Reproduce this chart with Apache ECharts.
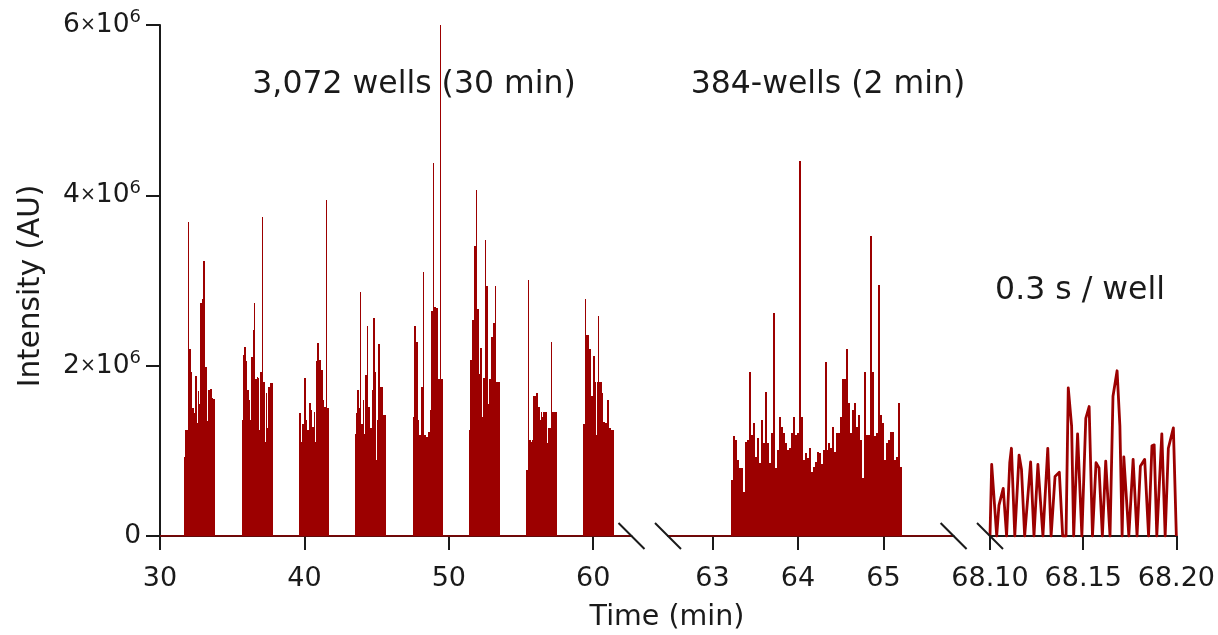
<!DOCTYPE html>
<html>
<head>
<meta charset="utf-8">
<script src="https://cdn.jsdelivr.net/npm/echarts@6/dist/echarts.min.js"></script>
<style>
  html, body { margin: 0; padding: 0; background: #ffffff; }
  #chart { width: 1218px; height: 635px; }
</style>
</head>
<body>
<div id="chart"></div>
<script>
// Intensities are in units of 10^6 AU, times in minutes.

// 3,072-well run: eight 384-well plates, one scan value per scan step
const plateStarts = [31.66, 35.68, 39.63, 43.51, 47.53, 51.41, 55.36, 59.31];
const plateScanStep = 0.0693;
const plate1 = [0.93, 1.25, 1.25, 1.25, 3.69, 2.20, 2.20, 1.93, 1.50, 1.50, 1.45, 1.88, 1.88, 1.33, 1.70, 1.55, 2.74, 2.74, 2.78, 3.23, 3.23, 1.99, 1.99, 1.35, 1.72, 1.72, 1.73, 1.73, 1.62, 1.61, 1.61];
const plate2 = [1.36, 2.13, 2.22, 2.22, 2.05, 1.72, 1.72, 1.60, 1.36, 2.10, 2.10, 2.42, 2.74, 1.84, 1.84, 1.87, 1.86, 1.25, 1.93, 1.93, 3.75, 1.81, 1.81, 1.10, 1.68, 1.27, 1.75, 1.75, 1.80, 1.80, 1.80];
const plate3 = [1.45, 1.45, 1.10, 1.31, 1.31, 1.86, 1.86, 1.36, 1.25, 1.25, 1.56, 1.56, 1.48, 1.28, 1.28, 1.46, 1.10, 2.05, 2.27, 2.27, 2.07, 2.07, 1.95, 1.95, 1.60, 1.52, 1.52, 3.94, 1.50, 1.50];
const plate4 = [1.20, 1.45, 1.72, 1.72, 1.50, 2.87, 1.31, 1.31, 1.60, 1.20, 1.89, 1.89, 2.46, 1.52, 1.52, 1.27, 1.27, 1.72, 2.56, 2.56, 1.92, 0.89, 1.36, 2.25, 2.25, 1.75, 1.75, 1.75, 1.42, 1.42, 1.42];
const plate5 = [1.40, 2.46, 2.46, 2.28, 2.28, 1.36, 1.19, 1.19, 1.75, 1.75, 3.10, 1.19, 1.19, 1.16, 1.16, 1.22, 1.22, 1.48, 2.64, 2.64, 4.38, 2.69, 2.69, 2.68, 2.68, 1.84, 1.84, 6.00, 1.84, 1.84];
const plate6 = [1.25, 2.07, 2.07, 2.54, 2.54, 3.40, 3.40, 4.06, 2.66, 2.66, 1.90, 2.21, 2.21, 1.40, 1.86, 1.86, 3.48, 2.93, 2.93, 1.55, 1.84, 1.84, 2.34, 2.34, 2.50, 2.50, 2.93, 1.81, 1.81, 1.81, 1.81];
const plate7 = [0.78, 0.78, 3.01, 1.13, 1.13, 1.10, 1.13, 1.64, 1.64, 1.64, 1.68, 1.68, 1.52, 1.52, 1.36, 1.46, 1.40, 1.46, 1.46, 1.46, 1.46, 1.09, 1.27, 1.27, 1.27, 2.28, 1.46, 1.46, 1.46, 1.46, 1.46];
const plate8 = [1.31, 1.31, 2.78, 2.36, 2.36, 2.36, 2.19, 2.19, 1.64, 1.64, 2.11, 2.11, 1.81, 1.19, 1.81, 2.58, 1.81, 1.81, 1.81, 1.68, 1.34, 1.34, 1.33, 1.33, 1.60, 1.60, 1.27, 1.27, 1.25, 1.25, 1.25];
const plates = [plate1, plate2, plate3, plate4, plate5, plate6, plate7, plate8];

// 384-well run (2 min)
const fastStart = 63.222;
const fastScanStep = 0.02316;
const fast384 = [0.66, 1.17, 1.13, 0.89, 0.80, 0.80, 0.52, 1.10, 1.13, 1.92, 1.19, 1.33, 0.93, 1.15, 0.86, 1.36, 1.09, 1.69, 1.09, 0.86,
                 1.21, 2.62, 0.80, 1.01, 1.40, 1.28, 1.21, 1.09, 1.01, 1.03, 1.21, 1.40, 1.19, 1.21, 4.40, 1.40, 0.89, 0.98, 0.92, 1.03,
                 0.75, 0.81, 0.87, 0.99, 0.98, 0.84, 1.01, 2.04, 1.01, 1.09, 1.03, 1.28, 0.99, 1.21, 1.21, 1.40, 1.84, 1.84, 2.20, 1.56,
                 1.21, 1.48, 1.56, 1.28, 1.42, 1.13, 0.68, 1.92, 1.19, 1.19, 3.52, 1.92, 1.17, 1.21, 2.95, 1.42, 1.33, 0.89, 1.09, 1.13,
                 1.22, 1.22, 0.89, 0.93, 1.56, 0.81];

// single wells at 0.3 s / well
const wellTimes = [68.1000, 68.1009, 68.1036, 68.1048, 68.1071, 68.1089, 68.1106, 68.1115, 68.1133, 68.1156,
                   68.1169, 68.1186, 68.1218, 68.1236, 68.1257, 68.1266, 68.1284, 68.1310, 68.1328, 68.1349,
                   68.1372, 68.1390, 68.1408, 68.1420, 68.1438, 68.1449, 68.1470, 68.1493, 68.1514, 68.1532,
                   68.1550, 68.1569, 68.1585, 68.1603, 68.1621, 68.1644, 68.1660, 68.1682, 68.1697, 68.1709,
                   68.1718, 68.1745, 68.1768, 68.1789, 68.1807, 68.1830, 68.1851, 68.1869, 68.1881, 68.1895,
                   68.1922, 68.1940, 68.1957, 68.1984, 68.2000];
const wellValues = [0, 0.84, 0, 0.36, 0.56, 0, 0.86, 1.03, 0, 0.95,
                    0.78, 0, 0.87, 0, 0.84, 0.82, 0, 1.03, 0, 0.70,
                    0.75, 0, 0, 1.74, 1.29, 0, 1.20, 0, 1.38, 1.52,
                    0, 0.86, 0.80, 0, 0.88, 0, 1.64, 1.94, 1.29, 0,
                    0.93, 0, 0.90, 0, 0.82, 0.90, 0, 1.06, 1.07, 0,
                    1.20, 0, 1.03, 1.27, 0];

// axis extents and ticks of the three broken-axis segments
const xRange1 = [30, 62.65];
const xRange2 = [62.48, 65.82];
const xRange3 = [68.10, 68.20];
const xTicks1 = [30, 40, 50, 60];
const xTicks2 = [63, 64, 65];
const xTicks3 = [68.10, 68.15, 68.20];
const yTicks = [0, 2, 4, 6];

const RED = '#9c0000';
const INK = '#1a1a1a';
const FONT = '"DejaVu Sans", sans-serif';

// one [scanStart, scanEnd, intensity] item per scan
function scans(start, step, values) {
  return values.map((v, i) => [start + i * step, start + (i + 1) * step, v]);
}
const scans1 = [].concat(...plates.map((v, k) => scans(plateStarts[k], plateScanStep, v)));
const scans2 = scans(fastStart, fastScanStep, fast384);
const trace3 = wellTimes.map((t, i) => [t, wellValues[i]]);

const chart = echarts.init(document.getElementById('chart'), null, { renderer: 'canvas' });

const axisLineStyle = { color: INK, width: 2 };
function xAxisFor(idx, range, ticks, fmt) {
  return {
    type: 'value', gridIndex: idx, min: range[0], max: range[1],
    axisLine: { show: true, onZero: false, lineStyle: axisLineStyle },
    axisTick: { show: true, inside: false, length: 14, lineStyle: { color: INK, width: 2 }, customValues: ticks },
    axisLabel: { show: true, margin: 29, customValues: ticks, formatter: fmt,
                 fontFamily: FONT, fontSize: 27, color: INK },
    splitLine: { show: false }
  };
}
function yAxisFor(idx, visible) {
  return {
    type: 'value', gridIndex: idx, min: 0, max: 6, show: visible,
    axisLine: { show: true, lineStyle: axisLineStyle },
    axisTick: { show: true, inside: false, length: 14, lineStyle: { color: INK, width: 2 }, customValues: yTicks },
    axisLabel: {
      show: true, margin: 19, customValues: yTicks,
      formatter: v => v === 0 ? '{n|0}' : '{n|' + v + '}{x|×}{n|10}{s|6}',
      rich: {
        n: { fontFamily: FONT, fontSize: 26.5, color: INK },
        x: { fontFamily: FONT, fontSize: 19, color: INK },
        s: { fontFamily: FONT, fontSize: 18, color: INK, padding: [0, 0, 15, 0] }
      }
    },
    splitLine: { show: false }
  };
}

// filled scan columns drawn through the axes' own scales, snapped to whole pixels
const scanSeries = (idx, data) => ({
  type: 'custom', coordinateSystem: 'cartesian2d', xAxisIndex: idx, yAxisIndex: idx,
  data: data, encode: { x: [0, 1], y: 2 }, clip: true, z: 3,
  renderItem: (params, api) => {
    const top = api.coord([api.value(0), api.value(2)]);
    const bot = api.coord([api.value(1), 0]);
    const x0 = Math.round(top[0]);
    const x1 = Math.max(Math.round(bot[0]), x0 + 1);
    const y0 = Math.round(top[1]);
    return {
      type: 'rect',
      shape: { x: x0, y: y0, width: x1 - x0, height: bot[1] - y0 },
      style: { fill: RED, stroke: null }
    };
  }
});
const baseline = (idx, range) => ({
  type: 'line', xAxisIndex: idx, yAxisIndex: idx, data: [[range[0], 0], [range[1], 0]],
  showSymbol: false, symbol: 'none', lineStyle: { color: RED, width: 1.5 }, z: 2
});

chart.setOption({
  animation: false,
  backgroundColor: '#ffffff',
  grid: [
    { left: 160, top: 25, width: 471.5, height: 511 },
    { left: 668, top: 25, width: 285.6, height: 511 },
    { left: 990, top: 25, width: 188, height: 511 }
  ],
  xAxis: [
    xAxisFor(0, xRange1, xTicks1, v => String(v)),
    xAxisFor(1, xRange2, xTicks2, v => String(v)),
    xAxisFor(2, xRange3, xTicks3, v => v.toFixed(2))
  ],
  yAxis: [yAxisFor(0, true), yAxisFor(1, false), yAxisFor(2, false)],
  series: [
    baseline(0, xRange1),
    baseline(1, xRange2),
    scanSeries(0, scans1),
    scanSeries(1, scans2),
    {
      type: 'line', xAxisIndex: 2, yAxisIndex: 2, data: trace3,
      showSymbol: false, symbol: 'none',
      lineStyle: { color: RED, width: 2.8, join: 'round' },
      z: 3
    }
  ]
});

// axis-break slashes at the segment ends, plus titles and annotations
const yZero = chart.convertToPixel({ yAxisIndex: 0 }, 0);
const breakPoints = [[0, xRange1[1]], [1, xRange2[0]], [1, xRange2[1]], [2, xRange3[0]]];
const slashes = breakPoints.map(([ax, v]) => {
  const cx = chart.convertToPixel({ xAxisIndex: ax }, v);
  return {
    type: 'line', z: 100,
    shape: { x1: cx - 13, y1: yZero - 13, x2: cx + 13, y2: yZero + 13 },
    style: { stroke: INK, lineWidth: 2 }
  };
});
const label = (text, x, y, size, rot) => ({
  type: 'text', x: x, y: y, rotation: rot || 0, z: 100,
  style: { text: text, font: size + 'px ' + FONT, fill: INK, align: 'center', verticalAlign: 'middle' }
});

chart.setOption({
  graphic: { elements: [
    ...slashes,
    label('3,072 wells (30 min)', 414, 85, 31.5),
    label('384-wells (2 min)', 828, 85, 31.5),
    label('0.3 s / well', 1080, 291, 31.5),
    label('Time (min)', 667, 618, 28.5),
    label('Intensity (AU)', 31, 286, 29.5, Math.PI / 2)
  ] }
});
</script>
</body>
</html>
